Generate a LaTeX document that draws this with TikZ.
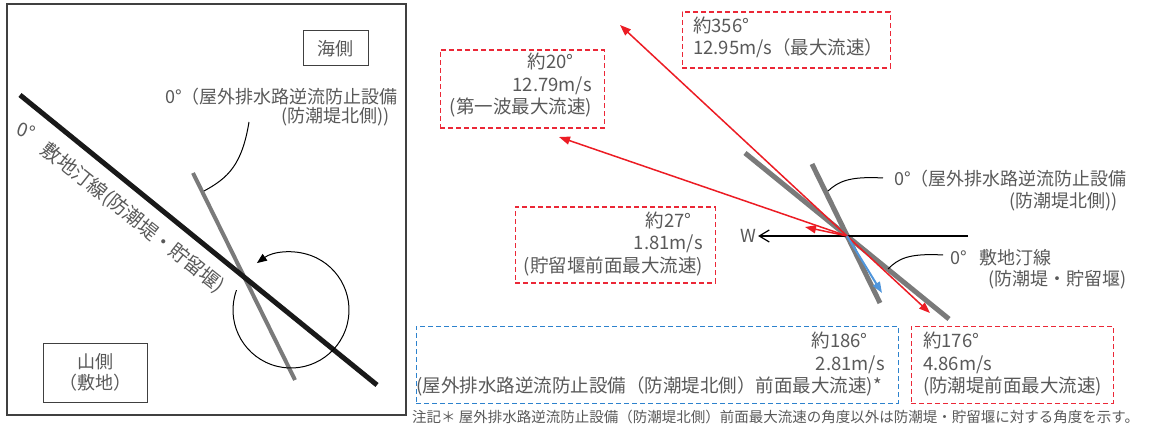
\documentclass[tikz,border=0pt]{standalone}
\usepackage{fontspec}
\setmainfont{Noto Sans CJK JP}
\usetikzlibrary{arrows.meta}
\definecolor{txt}{RGB}{89,89,89}
\definecolor{framegray}{RGB}{64,64,64}
\definecolor{wallgray}{RGB}{122,122,122}
\definecolor{arrred}{RGB}{236,28,36}
\definecolor{boxred}{RGB}{235,40,55}
\definecolor{boxblue}{RGB}{45,130,205}
\definecolor{arrblue}{RGB}{80,150,220}
\begin{document}
\begin{tikzpicture}[x=1pt,y=-1pt,
  lbl/.style={text=txt,font=\fontsize{18}{22}\selectfont,inner sep=0pt},
  btxt/.style={text=txt,font=\fontsize{18.5}{22.5}\selectfont,inner sep=0pt},
  redbox/.style={draw=boxred,line width=1.4pt,dash pattern=on 5pt off 3pt,inner sep=0pt,anchor=north west},
  bluebox/.style={draw=boxblue,line width=1.4pt,dash pattern=on 5pt off 3pt,inner sep=0pt,anchor=north west},
  sidebox/.style={draw=framegray,line width=1pt,text=txt,font=\fontsize{18}{21}\selectfont,align=center,inner sep=0pt},
  flow/.style={draw=arrred,line width=1.5pt,-{Triangle[length=11pt,width=8pt]}},
  flowblue/.style={draw=arrblue,line width=2pt,-{Triangle[length=11pt,width=8pt]}},
  wall/.style={draw=wallgray,line width=4.5pt},
  shore/.style={draw=black!90,line width=5pt},
  leader/.style={draw=black,line width=1pt},
]
\useasboundingbox (0,0) rectangle (1156,438);

% ---------- left panel ----------
\draw[draw=framegray,line width=1.2pt] (7,4) rectangle (406,415);
\node[sidebox,minimum width=65pt,minimum height=35pt] (sea) at (335.5,48.5) {海側};
\node[sidebox,minimum width=104pt,minimum height=59pt] (land) at (95,372.5) {山側\\（敷地）};

\coordinate (drainA) at (193,173);
\coordinate (drainB) at (295,380);
\coordinate (shoreA) at (20,95);
\coordinate (shoreB) at (377,385);
\draw[wall,line width=4pt] (drainA) -- (drainB);
\draw[shore] (shoreA) -- (shoreB);

\coordinate (rotc) at (291,310);
\draw[black,line width=1pt,-{Triangle[length=10pt,width=8pt]}]
  ([shift={(-160:58)}]rotc) arc[start angle=-160,end angle=-486,radius=58];

\node[lbl,font=\fontsize{18}{19}\selectfont,align=right,anchor=east] (ldrain) at (398,107.5)
  {0°（屋外排水路逆流防止設備\\(防潮堤北側))\kern8pt};
\coordinate (ldrainS) at (249,122);
\coordinate (ldrainE) at (204,191);
\draw[leader] (ldrainS) .. controls (242,165) and (228,178) .. (ldrainE);

\node[lbl,font=\fontsize{19}{20}\selectfont,rotate=-20] (lshoreZ) at (26,131) {0°};
\node[lbl,font=\fontsize{19.5}{20}\selectfont,rotate=-38.5] (lshore) at (133,218)
  {敷地汀線(防潮堤・貯留堰)};

% ---------- right panel ----------
\coordinate (o) at (847,236);
\coordinate (sA) at (745,153);
\coordinate (sB) at (949,319);
\coordinate (dA) at (812,164);
\coordinate (dB) at (880,303);
\draw[wall,line width=5pt] (sA) -- (sB);
\draw[wall,line width=5pt] (dA) -- (dB);

\node[lbl] (W) at (748,236) {W};
\coordinate (wE) at (968,236);
\draw[black,line width=1.2pt,-{Straight Barb[length=10pt,width=12pt]},shorten >=2pt] (wE) -- (W.east);

\coordinate (e356) at (620,25);
\coordinate (e20) at (559,137);
\coordinate (e27) at (805,227);
\coordinate (e176) at (930,313);
\coordinate (e186) at (882,293);
\draw[flow] (o) -- (e356);
\draw[flow] (o) -- (e20);
\draw[flow] (o) -- (e27);
\draw[flow] (o) -- (e176);
\draw[flowblue] (o) -- (e186);

\node[lbl,align=right,anchor=east] (rdrain) at (1127,191)
  {0°（屋外排水路逆流防止設備\\(防潮堤北側))\kern9pt};
\coordinate (rdrainS) at (883,178);
\coordinate (rdrainE) at (828,191);
\draw[leader] (rdrainS) .. controls (848,176) and (838,182) .. (rdrainE);

\node[lbl,anchor=west] (rshoreA) at (950,258) {0°\hspace{0.7em}敷地汀線};
\node[lbl,anchor=east] (rshoreB) at (1127,280) {(防潮堤・貯留堰)};
\coordinate (rshoreS) at (943,255);
\coordinate (rshoreE) at (888,269);
\draw[leader] (rshoreS) .. controls (908,253) and (898,259) .. (rshoreE);

% ---------- boxes ----------
\node[redbox,minimum width=208pt,minimum height=56pt] (b356) at (681.5,11.5) {};
\node[btxt,align=left,anchor=west] (t356) at (693,37.5) {約356°\\12.95m/s（最大流速）};

\node[redbox,minimum width=164pt,minimum height=78pt] (b20) at (439.5,49.5) {};
\node[btxt,align=right,anchor=east] (t20) at (592,85.5) {約20°\kern18pt\\12.79m/s\\(第一波最大流速)};

\node[redbox,minimum width=200pt,minimum height=76pt] (b27) at (514.5,206.5) {};
\node[btxt,align=right,anchor=east] (t27) at (703,244) {約27°\kern11pt\\1.81m/s\\(貯留堰前面最大流速)};

\node[bluebox,minimum width=482pt,minimum height=77pt] (b186) at (415.5,325.5) {};
\node[btxt,align=right,anchor=east] (t186) at (885,364.5)
  {約186°\kern17pt\\2.81m/s\\(屋外排水路逆流防止設備（防潮堤北側）前面最大流速)*\kern3pt};

\node[redbox,minimum width=202pt,minimum height=77pt] (b176) at (910.5,325.5) {};
\node[btxt,align=left,anchor=west] (t176) at (923,364.5) {約176°\\4.86m/s\\(防潮堤前面最大流速)};

\node[lbl,font=\fontsize{14.5}{16}\selectfont,anchor=west] (note) at (412,417)
  {注記＊ 屋外排水路逆流防止設備（防潮堤北側）前面最大流速の角度以外は防潮堤・貯留堰に対する角度を示す。};
\end{tikzpicture}
\end{document}
